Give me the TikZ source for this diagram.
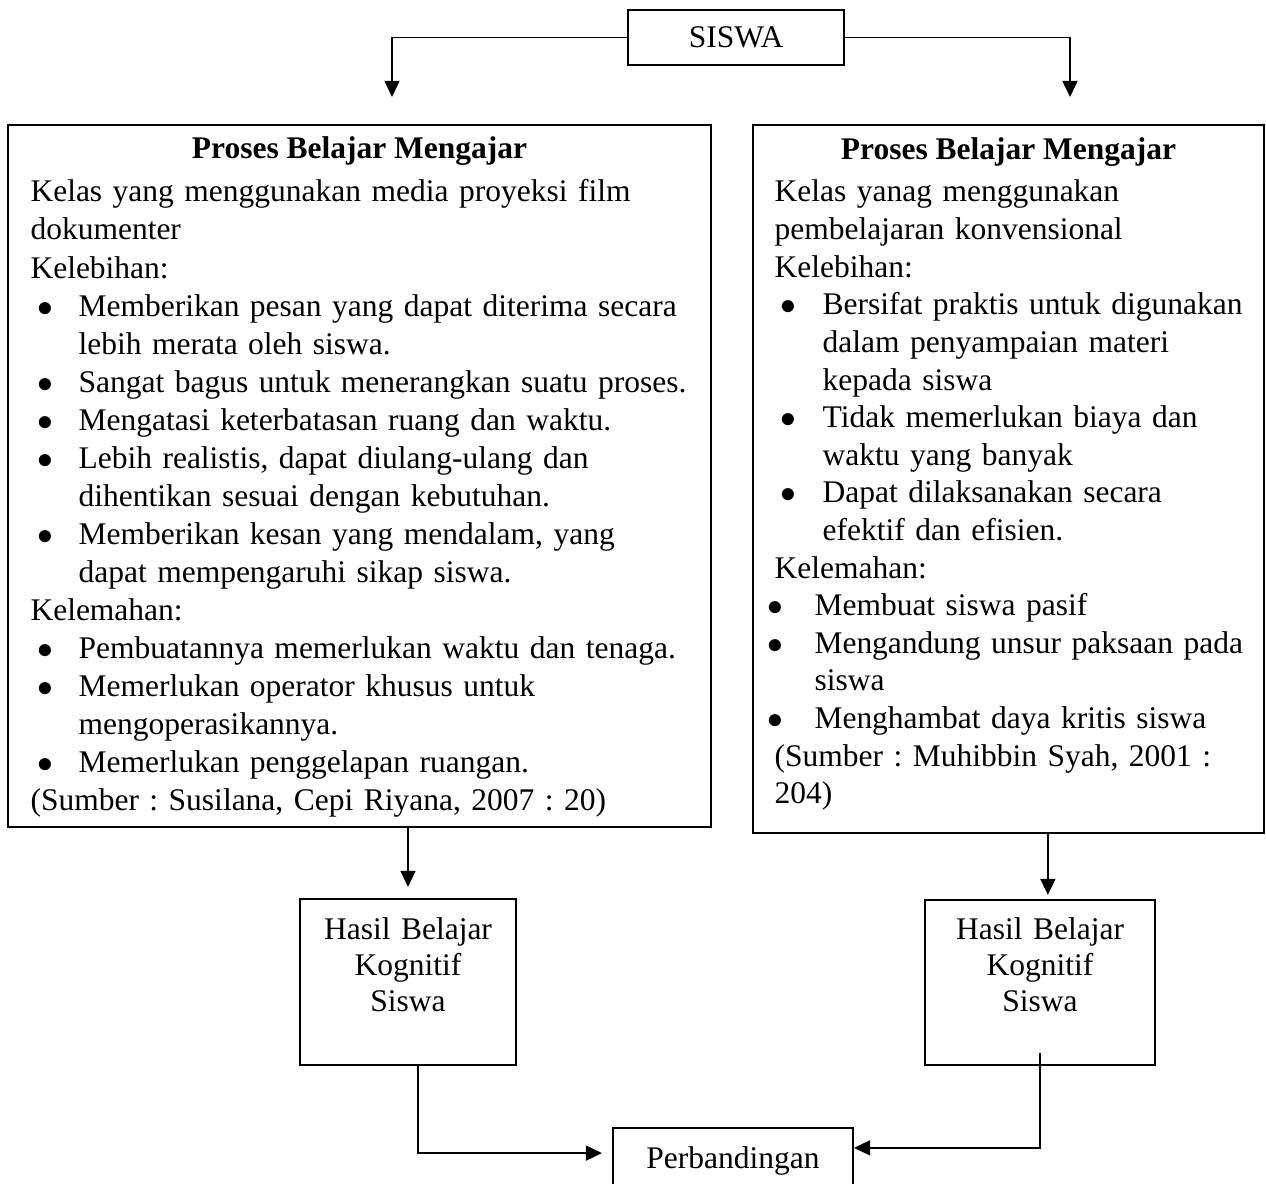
\documentclass[tikz,border=0pt]{standalone}
\usepackage{fontspec}
\setmainfont{Liberation Serif}
\usetikzlibrary{arrows.meta}
\frenchspacing

\tikzset{
  box/.style={draw, line width=0.85pt, inner sep=0pt},
  conn/.style={line width=0.65pt},
  arr/.style={conn, -{Triangle[width=5.7pt,length=6.1pt]}},
  txt/.style={inner sep=0pt, align=left},
  head/.style={font=\fontsize{12}{14.4}\selectfont\bfseries, anchor=base},
}
% bullet at an offset, text after a fixed indent
\newcommand{\bul}[2]{\hspace*{#1}\makebox[#2][l]{$\bullet$}}

\begin{document}
\begin{tikzpicture}[x=0.381pt,y=-0.381pt,font=\fontsize{12}{14.4}\selectfont]
  \useasboundingbox (0,0) rectangle (1266,1184);
  \clip (0,0) rectangle (1266,1184);
  \fill[white] (0,0) rectangle (1266,1184);

  % boxes
  \node[box, minimum width=82.3pt, minimum height=21pt] (siswa) at (736,37.5) {SISWA};
  \node[box, minimum width=267.8pt, minimum height=267.5pt] (pbmL) at (359.5,476) {};
  \node[box, minimum width=194.7pt, minimum height=269.7pt] (pbmR) at (1008.5,479) {};
  \node[box, minimum width=82.3pt, minimum height=63.2pt] (hasilL) at (408,982) {};
  \node[box, minimum width=87.6pt, minimum height=62.9pt] (hasilR) at (1040,982.5) {};
  \node[box, minimum width=91.4pt, minimum height=25.1pt] (perb) at (733,1161) {Perbandingan};

  % left box text
  \node[head] (headL) at (359.5,159) {Proses Belajar Mengajar};
  \node[txt, text width=265pt, anchor=base west, font=\fontsize{12}{14.48}\selectfont] (bodyL) at (30,202) {%
    Kelas yang menggunakan media proyeksi film\\
    dokumenter\\
    Kelebihan:\\
    \bul{2.7pt}{15.6pt}Memberikan pesan yang dapat diterima secara\\
    \hspace*{18.3pt}lebih merata oleh siswa.\\
    \bul{2.7pt}{15.6pt}Sangat bagus untuk menerangkan suatu proses.\\
    \bul{2.7pt}{15.6pt}Mengatasi keterbatasan ruang dan waktu.\\
    \bul{2.7pt}{15.6pt}Lebih realistis, dapat diulang-ulang dan\\
    \hspace*{18.3pt}dihentikan sesuai dengan kebutuhan.\\
    \bul{2.7pt}{15.6pt}Memberikan kesan yang mendalam, yang\\
    \hspace*{18.3pt}dapat mempengaruhi sikap siswa.\\
    Kelemahan:\\
    \bul{2.7pt}{15.6pt}Pembuatannya memerlukan waktu dan tenaga.\\
    \bul{2.7pt}{15.6pt}Memerlukan operator khusus untuk\\
    \hspace*{18.3pt}mengoperasikannya.\\
    \bul{2.7pt}{15.6pt}Memerlukan penggelapan ruangan.\\
    (Sumber : Susilana, Cepi Riyana, 2007 : 20)};

  % right box text
  \node[head] (headR) at (1008.5,160) {Proses Belajar Mengajar};
  \node[txt, text width=190pt, anchor=base west, font=\fontsize{12}{14.33}\selectfont] (bodyR) at (767,202) {%
    \hspace*{2.7pt}Kelas yanag menggunakan\\
    \hspace*{2.7pt}pembelajaran konvensional\\
    \hspace*{2.7pt}Kelebihan:\\
    \bul{5pt}{16pt}Bersifat praktis untuk digunakan\\
    \hspace*{21pt}dalam penyampaian materi\\
    \hspace*{21pt}kepada siswa\\
    \bul{5pt}{16pt}Tidak memerlukan biaya dan\\
    \hspace*{21pt}waktu yang banyak\\
    \bul{5pt}{16pt}Dapat dilaksanakan secara\\
    \hspace*{21pt}efektif dan efisien.\\
    \hspace*{2.7pt}Kelemahan:\\
    \bul{0pt}{17.9pt}Membuat siswa pasif\\
    \bul{0pt}{17.9pt}Mengandung unsur paksaan pada\\
    \hspace*{17.9pt}siswa\\
    \bul{0pt}{17.9pt}Menghambat daya kritis siswa\\
    \hspace*{2.7pt}(Sumber : Muhibbin Syah, 2001 :\\
    \hspace*{2.7pt}204)};

  % result boxes text
  \node[txt, align=center, text width=80pt, anchor=base, font=\fontsize{12}{13.7}\selectfont] (hasilLt) at (408,940) {Hasil Belajar\\Kognitif\\Siswa};
  \node[txt, align=center, text width=85pt, anchor=base, font=\fontsize{12}{13.7}\selectfont] (hasilRt) at (1040,940) {Hasil Belajar\\Kognitif\\Siswa};

  % connectors
  \coordinate (tipL) at (392,97);
  \coordinate (tipR) at (1070,97);
  \draw[arr] (siswa.west) -| (tipL);
  \draw[arr] (siswa.east) -| (tipR);
  \draw[arr, shorten >=4.2pt] (hasilL.north |- pbmL.south) -- (hasilL.north);
  \draw[arr, shorten >=1.5pt] ([xshift=3pt]hasilR.north |- pbmR.south) -- ([xshift=3pt]hasilR.north);
  \draw[arr, shorten >=3.8pt] ([xshift=3.8pt]hasilL.south) |- ([yshift=3pt]perb.west);
  \draw[arr] ([yshift=5pt]hasilR.south) |- ([yshift=5pt]perb.east);
\end{tikzpicture}
\end{document}
